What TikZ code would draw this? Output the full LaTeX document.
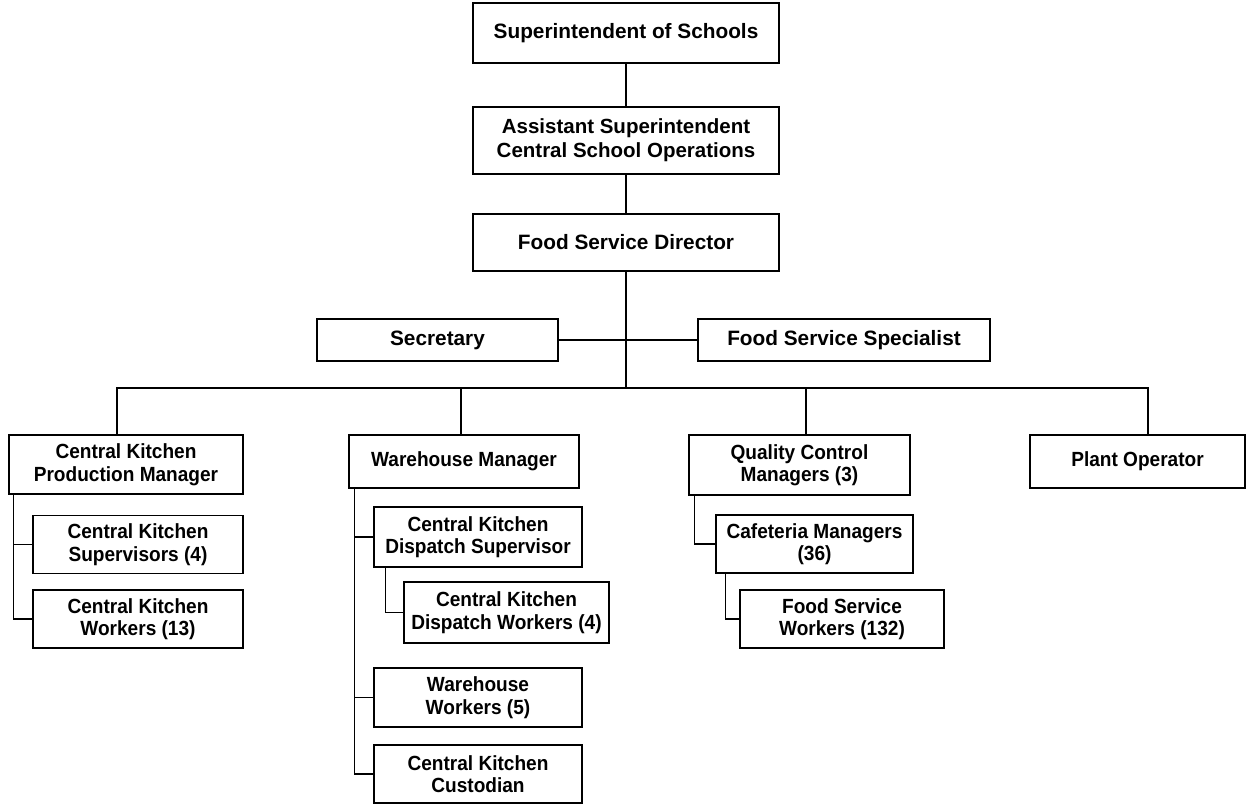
\documentclass[tikz,border=0pt]{standalone}
\usepackage{fontspec}
\setmainfont{Liberation Sans}
\newfontfamily\condfont[FakeStretch=0.93]{Liberation Sans}
\begin{document}
\begin{tikzpicture}[x=1pt,y=-1pt,
  box/.style={draw=black,line width=1.5pt,fill=white,inner sep=0pt,align=center,
    font=\bfseries\fontsize{20.8}{24}\selectfont},
  lowbox/.style={box,font=\condfont\bfseries\fontsize{20.5}{22.5}\selectfont},
  link/.style={draw=black,line width=1.5pt}]
\useasboundingbox (0,0) rectangle (1246,804);
% top chain
\node[box,minimum width=306,minimum height=60] (sup) at (626,33) {Superintendent of Schools};
\node[box,font=\bfseries\fontsize{20.5}{24}\selectfont,minimum width=306,minimum height=67] (asst) at (626,140.5) {Assistant Superintendent\\Central School Operations};
\node[box,minimum width=306,minimum height=57] (dir) at (626,242.5) {Food Service Director};
\node[box,minimum width=241,minimum height=42] (sec) at (437.5,340) {Secretary};
\node[box,minimum width=292,minimum height=42] (spec) at (844,340) {Food Service Specialist};
% second level
\node[lowbox,minimum width=234,minimum height=59] (ckpm) at (126,464.5) {Central Kitchen\\Production Manager};
\node[lowbox,minimum width=230,minimum height=53] (wm) at (464,461.5) {Warehouse Manager};
\node[lowbox,minimum width=221,minimum height=60] (qc) at (799.5,465) {Quality Control\\Managers (3)};
\node[lowbox,minimum width=215,minimum height=53] (po) at (1137.5,461.5) {Plant Operator};
% under production manager
\node[lowbox,minimum width=210,minimum height=58] (cks) at (138,544.5) {Central Kitchen\\Supervisors (4)};
\node[lowbox,minimum width=210,minimum height=58] (ckw) at (138,619) {Central Kitchen\\Workers (13)};
% under warehouse manager
\node[lowbox,minimum width=208,minimum height=60] (cds) at (478,537) {Central Kitchen\\Dispatch Supervisor};
\node[lowbox,minimum width=205,minimum height=61] (cdw) at (506.5,612.5) {Central Kitchen\\Dispatch Workers (4)};
\node[lowbox,minimum width=208,minimum height=59] (ww) at (478,697.5) {Warehouse\\Workers (5)};
\node[lowbox,minimum width=208,minimum height=58] (cc) at (478,774) {Central Kitchen\\Custodian};
% under quality control
\node[lowbox,minimum width=197,minimum height=58] (cm) at (814.5,544) {Cafeteria Managers\\(36)};
\node[lowbox,minimum width=204,minimum height=58] (fsw) at (842,619) {Food Service\\Workers (132)};
% connectors
\coordinate (bus) at (626,388);
\draw[link] (sup.south) -- (asst.north);
\draw[link] (asst.south) -- (dir.north);
\draw[link] (dir.south) -- (bus);
\draw[link] (sec.east) -- (spec.west);
\draw[link] (bus) -| ([xshift=-9pt]ckpm.north);
\draw[link] (bus) -| ([xshift=-3pt]wm.north);
\draw[link] (bus) -| ([xshift=6.5pt]qc.north);
\draw[link] (bus) -| ([xshift=10.5pt]po.north);
\draw[link] ([xshift=5pt]ckpm.south west) |- (cks.west);
\draw[link] ([xshift=5pt]ckpm.south west) |- (ckw.west);
\draw[link] ([xshift=6pt]wm.south west) |- (cds.west);
\draw[link] ([xshift=6pt]wm.south west) |- (ww.west);
\draw[link] ([xshift=6pt]wm.south west) |- (cc.west);
\draw[link] ([xshift=12pt]cds.south west) |- (cdw.west);
\draw[link] ([xshift=6pt]qc.south west) |- (cm.west);
\draw[link] ([xshift=10pt]cm.south west) |- (fsw.west);
\end{tikzpicture}
\end{document}
